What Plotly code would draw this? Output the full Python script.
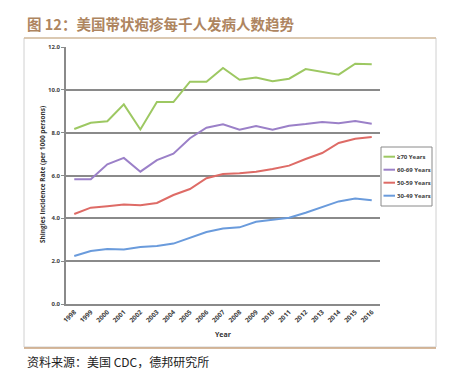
import plotly.graph_objects as go

years = list(range(1998, 2017))
year_labels = [str(y) for y in years]
age70 = [8.17, 8.46, 8.53, 9.32, 8.15, 9.43, 9.43, 10.38, 10.38, 11.02, 10.47,
         10.58, 10.40, 10.52, 10.97, 10.83, 10.71, 11.22, 11.20]
age60 = [5.82, 5.82, 6.52, 6.82, 6.18, 6.72, 7.02, 7.74, 8.23, 8.39, 8.14,
         8.31, 8.14, 8.32, 8.40, 8.50, 8.44, 8.54, 8.42]
age50 = [4.20, 4.50, 4.57, 4.65, 4.61, 4.72, 5.09, 5.37, 5.87, 6.07, 6.10,
         6.18, 6.30, 6.46, 6.77, 7.05, 7.52, 7.72, 7.80]
age30 = [2.24, 2.47, 2.57, 2.54, 2.66, 2.71, 2.82, 3.10, 3.36, 3.52, 3.58,
         3.84, 3.92, 4.03, 4.26, 4.54, 4.79, 4.93, 4.84]
y_ticks = [0, 2, 4, 6, 8, 10, 12]
series_names = ["\u226570 Years", "60-69 Years", "50-59 Years", "30-49 Years"]
colors = ["#9dc862", "#9b80c8", "#de6b66", "#6a9bdc"]

W, H = 455, 376
L, R, T, B = 66, 380, 47, 304

def px(x):
    return (x - L) / (R - L)

def py(y):
    return (B - y) / (B - T)

x_range = [years[0] - 0.5, years[-1] + 0.5]
boundaries = [y - 0.5 for y in years] + [years[-1] + 0.5]

fig = go.Figure()
for name, vals, c in zip(series_names, [age70, age60, age50, age30], colors):
    fig.add_trace(go.Scatter(x=years, y=vals, mode="lines", name=name,
                             line=dict(color=c, width=2)))

tickfont = dict(family="Open Sans", size=6, color="#404040", weight="bold")
xtickfont = dict(family="Open Sans", size=6.5, color="#404040", weight="bold")

fig.update_layout(
    width=W, height=H,
    margin=dict(l=L, r=W - R, t=T, b=H - B),
    paper_bgcolor="white", plot_bgcolor="white",
    showlegend=False,
    xaxis=dict(range=x_range, tickmode="array",
               tickvals=years, ticktext=year_labels, showgrid=False,
               showline=True, linecolor="#8a8a8a", linewidth=1.5,
               ticks="", tickangle=-45, tickfont=xtickfont, zeroline=False),
    xaxis2=dict(range=x_range, overlaying="x", side="bottom", anchor="y",
                tickmode="array", tickvals=boundaries, showticklabels=False,
                ticks="outside", ticklen=3, tickcolor="#8a8a8a", tickwidth=1,
                showgrid=False, showline=False, zeroline=False),
    yaxis=dict(range=[0, 12], tickmode="array", tickvals=y_ticks, tickformat=".1f",
               showgrid=True, gridcolor="#8a8a8a", gridwidth=1.5, showline=True,
               linecolor="#8a8a8a", linewidth=1.5, ticks="outside", ticklen=3,
               tickcolor="#8a8a8a", tickfont=tickfont, zeroline=False),
    font=dict(family="Open Sans"),
)

# frame of the chart panel
fig.add_shape(type="rect", xref="paper", yref="paper",
              x0=px(24), x1=px(436), y0=py(347), y1=py(38),
              line=dict(color="#d0d0d0", width=1), layer="below")
fig.add_shape(type="line", xref="paper", yref="paper",
              x0=px(24), x1=px(436), y0=py(38), y1=py(38),
              line=dict(color="#d7bfa0", width=1.5))
fig.add_shape(type="line", xref="paper", yref="paper",
              x0=px(24), x1=px(436), y0=py(348), y1=py(348),
              line=dict(color="#c9a27c", width=1.5))

# legend (drawn manually to match the compact spacing)
fig.add_shape(type="rect", xref="paper", yref="paper",
              x0=px(381), x1=px(432), y0=py(206), y1=py(147),
              line=dict(color="#8a8a8a", width=1), fillcolor="white")
leg_y = [156.7, 169.7, 182.7, 195.7]
for name, c, yy in zip(series_names, colors, leg_y):
    fig.add_shape(type="line", xref="paper", yref="paper",
                  x0=px(383.5), x1=px(395), y0=py(yy), y1=py(yy),
                  line=dict(color=c, width=2))
    fig.add_annotation(text=name, xref="paper", yref="paper", x=px(395.5), y=py(yy),
                       xanchor="left", yanchor="middle", showarrow=False, align="left",
                       width=40, borderpad=0,
                       font=dict(family="Open Sans", size=6, color="#404040", weight="bold"))

fig.add_annotation(text="图 12：美国带状疱疹每千人发病人数趋势", xref="paper", yref="paper",
                   x=px(26), y=py(23), xanchor="left", yanchor="middle", showarrow=False,
                   align="left", width=330, borderpad=0,
                   font=dict(family="Noto Sans CJK SC", size=14.5, color="#ae8560", weight="bold"))
fig.add_annotation(text="资料来源：美国 CDC，德邦研究所", xref="paper", yref="paper",
                   x=px(26), y=py(361), xanchor="left", yanchor="middle", showarrow=False,
                   align="left", width=260, borderpad=0,
                   font=dict(family="Noto Sans CJK SC", size=12, color="#222222"))
fig.add_annotation(text="Shingles Incidence Rate (per 1000 persons)", xref="paper", yref="paper",
                   x=px(42), y=py(175), xanchor="center", yanchor="middle", showarrow=False,
                   textangle=-90,
                   font=dict(family="Open Sans", size=6.5, color="#333333", weight="bold"))
fig.add_annotation(text="Year", xref="paper", yref="paper",
                   x=px(223), y=py(334), xanchor="center", yanchor="middle", showarrow=False,
                   font=dict(family="Open Sans", size=7, color="#333333", weight="bold"))

fig.write_html("out.html", config={"displayModeBar": False},
               post_script="document.body.style.margin='0';document.body.style.overflow='hidden';")
